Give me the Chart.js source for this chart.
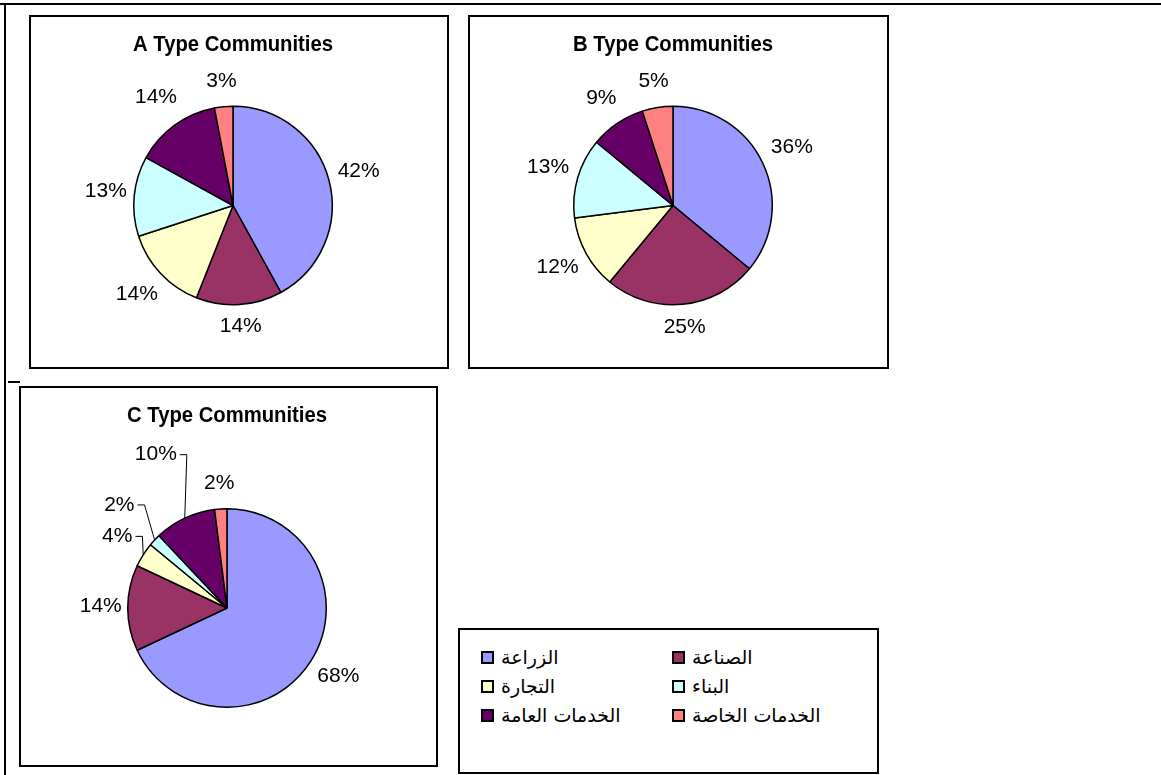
<!DOCTYPE html>
<html lang="ar">
<head>
<meta charset="UTF-8">
<title>Type Communities</title>
<script src="https://cdn.jsdelivr.net/npm/chart.js"></script>
<style>
    body {
        margin: 0;
        width: 1161px;
        height: 775px;
        background: #fff;
        position: relative;
        overflow: hidden;
        font-family: "Liberation Sans", Arial, sans-serif;
    }
    .rule { position: absolute; background: #000; }
    .box {
        position: absolute;
        box-sizing: border-box;
        border: 2px solid #000;
        background: #fff;
    }
    canvas { position: absolute; }
    .legend-item {
        position: absolute;
        display: flex;
        align-items: center;
        height: 20px;
        font-family: "DejaVu Sans", "Liberation Sans", Arial, sans-serif;
        font-size: 19px;
        color: #000;
    }
    .legend-item .sw {
        width: 9px;
        height: 9px;
        border: 2px solid #000;
        margin-right: 7px;
    }
</style>
</head>
<body>
<div class="rule" style="left:0;top:3px;width:1161px;height:2px"></div>
<div class="rule" style="left:4px;top:3px;width:2px;height:772px"></div>
<div class="rule" style="left:8px;top:381px;width:12px;height:2px"></div>

<div class="box" style="left:29px;top:15px;width:420px;height:354px"></div>
<div class="box" style="left:468px;top:15px;width:421px;height:354px"></div>
<div class="box" style="left:19px;top:386px;width:419px;height:381px"></div>
<div class="box" id="legend" style="left:458px;top:628px;width:421px;height:146px"></div>

<canvas id="pieA" width="415" height="349" style="left:31px;top:17px"></canvas>
<canvas id="pieB" width="415" height="349" style="left:470px;top:17px"></canvas>
<canvas id="pieC" width="414" height="376" style="left:21px;top:389px"></canvas>

<script>
    const categories = ['الزراعة', 'الصناعة', 'التجارة', 'البناء', 'الخدمات العامة', 'الخدمات الخاصة'];
    const shareA = [42, 14, 14, 13, 14, 3];
    const shareB = [36, 25, 12, 13, 9, 5];
    const shareC = [68, 14, 4, 2, 10, 2];
    const colors = ['#9999FF', '#993366', '#FFFFCC', '#CCFFFF', '#660066', '#FF8080'];

    const FONT = '"Liberation Sans", Arial, sans-serif';

    // percent labels outside the slices, with optional leader lines
    const pctLabels = {
        id: 'pctLabels',
        afterDatasetsDraw(chart, args, opts) {
            const ctx = chart.ctx;
            const meta = chart.getDatasetMeta(0);
            const vals = chart.data.datasets[0].data;
            const push = opts.push || {};
            const leaders = opts.leaders || [];
            ctx.save();
            ctx.font = '21px ' + FONT;
            ctx.fillStyle = '#000';
            ctx.strokeStyle = '#000';
            ctx.textAlign = 'center';
            ctx.textBaseline = 'middle';
            meta.data.forEach((arc, i) => {
                const p = arc.getProps(['x', 'y', 'startAngle', 'endAngle', 'outerRadius'], true);
                const mid = (p.startAngle + p.endAngle) / 2;
                const cx = Math.cos(mid), cy = Math.sin(mid);
                const text = vals[i] + '%';
                const w = ctx.measureText(text).width;
                const d = p.outerRadius + 6 + Math.abs(cx) * w / 2 + Math.abs(cy) * 16.6 + (push[i] || 0);
                const lx = p.x + cx * d;
                const ly = p.y + cy * d - 2;
                ctx.fillText(text, lx, ly);
                if (leaders.includes(i)) {
                    ctx.beginPath();
                    ctx.lineWidth = 1;
                    ctx.moveTo(lx + w / 2 + 3, ly);
                    ctx.lineTo(lx + w / 2 + 10, ly);
                    ctx.lineTo(p.x + cx * p.outerRadius, p.y + cy * p.outerRadius);
                    ctx.stroke();
                }
            });
            ctx.restore();
        }
    };

    function makePie(id, title, values, pad, titlePad, labelOpts) {
        return new Chart(document.getElementById(id), {
            type: 'pie',
            data: {
                labels: categories,
                datasets: [{
                    data: values,
                    backgroundColor: colors,
                    borderColor: '#000',
                    borderWidth: 1.5
                }]
            },
            options: {
                responsive: false,
                animation: false,
                layout: { padding: pad },
                plugins: {
                    legend: { display: false },
                    tooltip: { enabled: false },
                    title: {
                        display: true,
                        text: title,
                        color: '#000',
                        font: { family: FONT, size: 22, weight: 'bold' },
                        padding: titlePad
                    },
                    pctLabels: labelOpts
                }
            },
            plugins: [pctLabels]
        });
    }

    makePie('pieA', 'A Type Communities', shareA,
        { left: 102, right: 113, top: 0, bottom: 60.5 }, { top: 14.8, bottom: 47.3 }, {});
    makePie('pieB', 'B Type Communities', shareB,
        { left: 103, right: 112, top: 0, bottom: 60.5 }, { top: 14.8, bottom: 47.3 }, {});
    makePie('pieC', 'C Type Communities', shareC,
        { left: 106, right: 108, top: 0, bottom: 57 }, { top: 13.3, bottom: 79.3 },
        { push: { 2: 3, 3: 20, 4: 38 }, leaders: [2, 3, 4] });

    // legend: two columns, three rows
    const legend = document.getElementById('legend');
    categories.forEach((name, i) => {
        const item = document.createElement('div');
        item.className = 'legend-item';
        item.style.left = (i % 2 === 0 ? 21 : 212) + 'px';
        item.style.top = (17 + Math.floor(i / 2) * 29) + 'px';
        const sw = document.createElement('span');
        sw.className = 'sw';
        sw.style.background = colors[i];
        const txt = document.createElement('span');
        txt.textContent = name;
        item.appendChild(sw);
        item.appendChild(txt);
        legend.appendChild(item);
    });
</script>
</body>
</html>
